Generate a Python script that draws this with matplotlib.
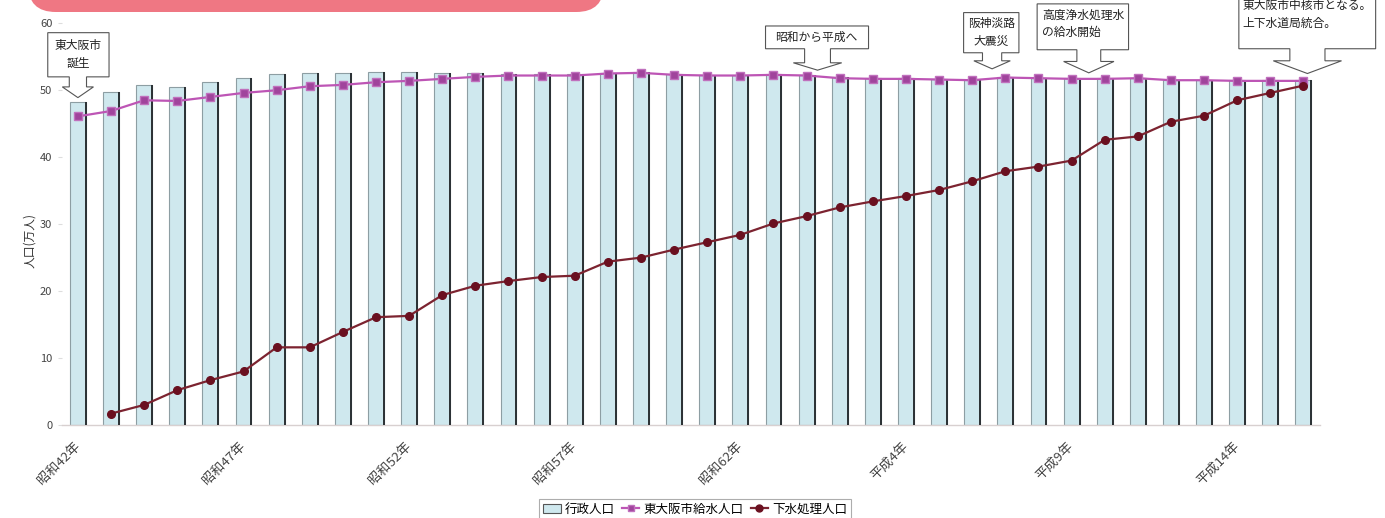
import matplotlib
matplotlib.use("Agg")
import matplotlib.pyplot as plt
from matplotlib.patches import Polygon, FancyBboxPatch, Patch
from matplotlib.lines import Line2D
import numpy as np

plt.rcParams['font.family'] = ['Noto Sans CJK JP', 'DejaVu Sans']

# ---------------- data ----------------
years = list(range(1967, 2005))  # 昭和42年 .. 平成16年
tick_idx = [0, 5, 10, 15, 20, 25, 30, 35]
tick_labels = ['昭和42年', '昭和47年', '昭和52年', '昭和57年',
               '昭和62年', '平成4年', '平成9年', '平成14年']

admin_pop = [48.2, 49.7, 50.8, 50.5, 51.3, 51.8, 52.4, 52.6, 52.6, 52.8,
             52.8, 52.6, 52.6, 52.4, 52.4, 52.4, 52.6, 52.7, 52.4, 52.3,
             52.3, 52.4, 52.3, 52.0, 51.9, 51.8, 51.7, 51.6, 52.0, 51.9,
             51.8, 51.8, 51.9, 51.6, 51.6, 51.5, 51.5, 51.5]
water_pop = [46.1, 46.9, 48.5, 48.4, 49.0, 49.6, 50.0, 50.6, 50.8, 51.2,
             51.4, 51.7, 52.0, 52.2, 52.2, 52.2, 52.5, 52.6, 52.3, 52.2,
             52.2, 52.3, 52.2, 51.8, 51.7, 51.7, 51.6, 51.5, 51.9, 51.8,
             51.7, 51.7, 51.8, 51.5, 51.5, 51.4, 51.4, 51.4]
sewer_pop = [np.nan, 1.7, 3.0, 5.2, 6.7, 8.0, 11.6, 11.6, 13.9, 16.1,
             16.3, 19.4, 20.8, 21.5, 22.1, 22.3, 24.4, 25.0, 26.2, 27.3,
             28.4, 30.1, 31.2, 32.5, 33.4, 34.2, 35.1, 36.4, 37.9, 38.6,
             39.5, 42.6, 43.1, 45.3, 46.2, 48.5, 49.6, 50.7]

series_names = ['行政人口', '東大阪市給水人口', '下水処理人口']

# (text, centre x of arrow, box left, box right, box top, box bottom,
#  neck half, shoulder half, shoulder y, tip y, text x, text y, ha)
callouts = [
    ('東大阪市\n誕生', 0.0, -0.91, 0.94, 58.6, 52.0, 0.26, 0.47, 50.5, 48.9, 0.0, 55.4, 'center'),
    ('昭和から平成へ', 22.33, 20.76, 23.87, 59.6, 56.2, 0.39, 0.73, 54.1, 53.0, 22.3, 57.9, 'center'),
    ('阪神淡路\n大震災', 27.6, 26.74, 28.41, 61.6, 55.6, 0.29, 0.55, 54.4, 53.2, 27.57, 58.6, 'center'),
    ('高度浄水処理水\nの給水開始', 30.52, 28.96, 31.72, 62.9, 56.05, 0.36, 0.76, 54.3, 52.6, 29.1, 59.9, 'left'),
    ('東大阪市中核市となる。\n上下水道局統合。', 37.12, 35.05, 39.18, 66.0, 56.2, 0.53, 1.03, 54.4, 52.5, 35.17, 61.3, 'left'),
]

# ---------------- figure ----------------
W, H = 1385, 518
fig = plt.figure(figsize=(W / 100, H / 100), dpi=100)
fig.patch.set_facecolor('white')

# top banner
banner = FancyBboxPatch((28 / W, 1 - 12 / H), (604 - 28) / W, 40 / H,
                        boxstyle='round,pad=0,rounding_size=0.02',
                        transform=fig.transFigure, facecolor='#ef7783',
                        edgecolor='none', mutation_aspect=W / H)
fig.patches.append(banner)

ax = fig.add_axes([62 / W, (H - 425) / H, (1320 - 62) / W, (425 - 23.3) / H])
x = np.arange(len(years))
bw = 0.48

ax.bar(x, admin_pop, width=bw, color='#cfe8ee', edgecolor='#8d9ea3',
       linewidth=0.8, zorder=2)
ax.vlines(x + bw / 2, 0, admin_pop, color='#2a3033', linewidth=1.4, zorder=3)

ax.plot(x, water_pop, color='#bd55b5', linewidth=1.6, marker='s',
        markersize=5.5, markerfacecolor='#a0449c', markeredgecolor='#c070bd',
        zorder=5)
ax.plot(x, sewer_pop, color='#7c2330', linewidth=1.6, marker='o',
        markersize=5.5, markerfacecolor='#6a1020', markeredgecolor='#6a1020',
        zorder=5)

ax.set_xlim(-0.48, 37.5)
ax.set_ylim(0, 60)
ax.set_yticks(range(0, 61, 10))
ax.set_xticks(tick_idx)
ax.set_xticklabels(tick_labels, rotation=45, ha='right', va='center',
                   rotation_mode='anchor', fontsize=9.5, color='#444444')
ax.tick_params(axis='x', length=0, pad=14)
ax.tick_params(axis='y', length=3, color='#dddddd', labelsize=8,
               labelcolor='#444444', pad=4)
for s in ['top', 'right', 'left']:
    ax.spines[s].set_visible(False)
ax.spines['bottom'].set_color('#d8d0d0')
ax.spines['bottom'].set_linewidth(1.0)

fig.text(30 / W, (H - 240) / H, '人口(万人)', rotation=90, ha='center',
         va='center', fontsize=8.5, color='#333333')

# callouts
for (txt, xc, L, R, top, bot, nh, sh, sy, ty, tx, tyy, ha) in callouts:
    verts = [(L, top), (R, top), (R, bot), (xc + nh, bot), (xc + nh, sy),
             (xc + sh, sy), (xc, ty), (xc - sh, sy), (xc - nh, sy),
             (xc - nh, bot), (L, bot)]
    poly = Polygon(verts, closed=True, facecolor='white', edgecolor='#555555',
                   linewidth=0.8, clip_on=False, zorder=6)
    ax.add_patch(poly)
    ax.text(tx, tyy, txt, ha=ha, va='center', fontsize=8.5, color='#222222',
            linespacing=1.45, zorder=7, clip_on=False)

# legend
handles = [
    Patch(facecolor='#cfe8ee', edgecolor='#555555', linewidth=0.8),
    Line2D([], [], color='#bd55b5', linewidth=1.6, marker='s', markersize=5,
           markerfacecolor='#a0449c', markeredgecolor='#c070bd'),
    Line2D([], [], color='#7c2330', linewidth=1.6, marker='o', markersize=5,
           markerfacecolor='#6a1020', markeredgecolor='#6a1020'),
]
leg = fig.legend(handles, series_names, loc='upper center',
                 bbox_to_anchor=(695 / W, 1 - 499 / H), ncol=3,
                 fontsize=9, frameon=True, fancybox=False,
                 edgecolor='#999999', handlelength=1.4, handletextpad=0.3,
                 columnspacing=0.6, borderpad=0.3, borderaxespad=0)
leg.get_frame().set_linewidth(0.8)

fig.savefig('out.png', dpi=100, facecolor='white')
